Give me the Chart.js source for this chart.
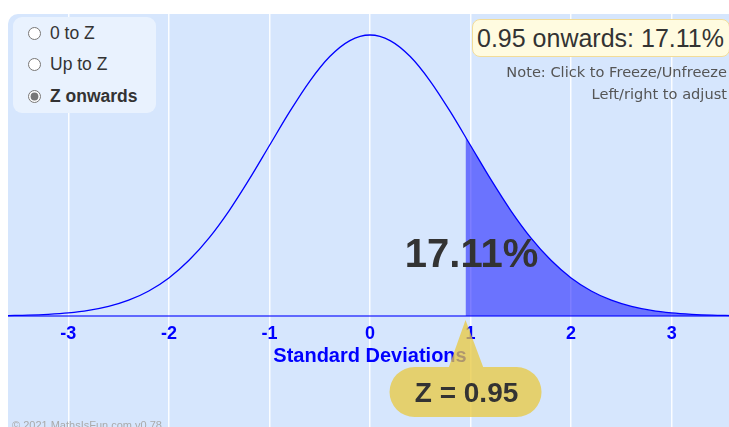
<!DOCTYPE html>
<html lang="en">
<head>
    <meta charset="UTF-8">
    <title>Standard Normal Distribution</title>
    <script src="https://cdn.jsdelivr.net/npm/chart.js"></script>
    <style>
        body { margin: 0; width: 729px; height: 427px; overflow: hidden; background: #fff; font-family: "Liberation Sans", Arial, sans-serif; position: relative; }
        #wrap { position: absolute; left: 8px; top: 14px; width: 724px; height: 413px; background: #d6e6fd; border-top-left-radius: 10px; overflow: hidden; }
        #modes { position: absolute; left: 13px; top: 17px; width: 143px; height: 96px; background: #e9f2fe; border-radius: 9px; }
        #modes label { position: absolute; left: 15px; font-size: 17.5px; color: #333; display: flex; align-items: center; }
        #modes input { margin: 0 9px 0 0; width: 13px; height: 13px; accent-color: #777; }
        #result { position: absolute; left: 472px; top: 19px; width: 258px; height: 38px; background: #fffbe0; border: 1px solid #f2dc98; border-radius: 8px; box-sizing: border-box; font-size: 25px; color: #333; line-height: 36px; padding-left: 4px; white-space: nowrap; }
        .note { position: absolute; right: 2px; font-family: "DejaVu Sans", Verdana, sans-serif; font-size: 14.6px; color: #555; white-space: nowrap; }
        #copy { position: absolute; left: 12px; top: 419px; font-size: 11px; color: #aaa; }
    </style>
</head>
<body>
    <div id="wrap"><canvas id="myChart" width="724" height="413"></canvas></div>
    <div id="modes">
        <label style="top:6px"><input type="radio" name="m">0 to Z</label>
        <label style="top:37px"><input type="radio" name="m">Up to Z</label>
        <label style="top:69px;font-weight:bold"><input type="radio" name="m" checked>Z onwards</label>
    </div>
    <div id="result">0.95 onwards: 17.11%</div>
    <div class="note" style="top:63px">Note: Click to Freeze/Unfreeze</div>
    <div class="note" style="top:85px">Left/right to adjust</div>
    <div id="copy">© 2021 MathsIsFun.com v0.78</div>

    <script>
        // bell curve (standard deviations vs height)
        const xValues = [-3.6, -3.4, -3.2, -3.0, -2.8, -2.6, -2.4, -2.2, -2.0, -1.8, -1.6, -1.4, -1.2, -1.0, -0.8, -0.6, -0.4, -0.2, 0,
                         0.2, 0.4, 0.6, 0.8, 1.0, 1.2, 1.4, 1.6, 1.8, 2.0, 2.2, 2.4, 2.6, 2.8, 3.0, 3.2, 3.4, 3.6];
        const curveValues = [0.0006, 0.0012, 0.0024, 0.0044, 0.0079, 0.0136, 0.0224, 0.0355, 0.0540, 0.0790, 0.1109, 0.1497, 0.1942, 0.2420, 0.2897, 0.3332, 0.3683, 0.3910, 0.3989,
                             0.3910, 0.3683, 0.3332, 0.2897, 0.2420, 0.1942, 0.1497, 0.1109, 0.0790, 0.0540, 0.0355, 0.0224, 0.0136, 0.0079, 0.0044, 0.0024, 0.0012, 0.0006];

        // shaded tail from Z onwards
        const shadeX = [0.95, 1.0, 1.2, 1.4, 1.6, 1.8, 2.0, 2.2, 2.4, 2.6, 2.8, 3.0, 3.2, 3.4, 3.6];
        const shadeValues = [0.2541, 0.2420, 0.1942, 0.1497, 0.1109, 0.0790, 0.0540, 0.0355, 0.0224, 0.0136, 0.0079, 0.0044, 0.0024, 0.0012, 0.0006];

        const xTicks = [-3, -2, -1, 0, 1, 2, 3];
        const zValue = 0.95;
        const areaLabel = "17.11%";
        const zLabel = "Z = 0.95";

        const overlay = {
            id: 'overlay',
            afterDraw(chart) {
                const c = chart.ctx;
                const zx = chart.scales.x.getPixelForValue(zValue);
                const y0 = chart.scales.y.getPixelForValue(0);
                c.save();
                // big percentage
                c.fillStyle = '#333';
                c.font = 'bold 40px "Liberation Sans", Arial, sans-serif';
                c.textAlign = 'center';
                c.textBaseline = 'alphabetic';
                c.fillText(areaLabel, zx + 6, y0 - 49);

                // Z bubble with pointer
                const left = zx - 76, top = y0 + 51, w = 152, h = 50, r = 25;
                c.beginPath();
                c.moveTo(left + r, top);
                c.lineTo(left + w - r, top);
                c.arc(left + w - r, top + r, r, -Math.PI / 2, Math.PI / 2);
                c.lineTo(left + r, top + h);
                c.arc(left + r, top + r, r, Math.PI / 2, Math.PI * 1.5);
                c.closePath();
                c.moveTo(zx - 17, top + 1);
                c.lineTo(zx, y0 + 4);
                c.lineTo(zx + 18, top + 1);
                c.closePath();
                c.fillStyle = 'rgba(232,200,62,0.75)';
                c.fill();

                c.fillStyle = '#333';
                c.font = 'bold 28px "Liberation Sans", Arial, sans-serif';
                c.textBaseline = 'middle';
                c.fillText(zLabel, zx + 1, top + 27);
                c.restore();
            }
        };

        const ctx = document.getElementById('myChart').getContext('2d');
        const myChart = new Chart(ctx, {
            type: 'line',
            data: {
                datasets: [
                    {
                        data: xValues.map((x, i) => ({ x: x, y: curveValues[i] })),
                        borderColor: '#0000ff',
                        borderWidth: 1.3,
                        pointRadius: 0,
                        cubicInterpolationMode: 'monotone',
                        fill: false,
                        order: 0
                    },
                    {
                        data: shadeX.map((x, i) => ({ x: x, y: shadeValues[i] })),
                        borderWidth: 0,
                        borderColor: 'rgba(0,0,0,0)',
                        backgroundColor: 'rgba(0,0,255,0.5)',
                        pointRadius: 0,
                        cubicInterpolationMode: 'monotone',
                        fill: 'origin',
                        order: 1
                    }
                ]
            },
            options: {
                responsive: false,
                animation: false,
                layout: { padding: 0 },
                plugins: { legend: { display: false }, tooltip: { enabled: false } },
                scales: {
                    x: {
                        type: 'linear',
                        position: { y: 0 },
                        min: -3.6,
                        max: 3.6,
                        afterBuildTicks: s => { s.ticks = xTicks.map(v => ({ value: v })); },
                        grid: { color: 'rgba(255,255,255,0.9)', lineWidth: 1.5, drawTicks: false },
                        border: { color: 'rgba(0,0,255,0.55)', width: 2 },
                        ticks: {
                            color: '#0000ff',
                            padding: 7,
                            maxRotation: 0,
                            font: { family: '"Liberation Sans", Arial, sans-serif', size: 18, weight: 'bold' }
                        },
                        title: {
                            display: true,
                            text: 'Standard Deviations',
                            color: '#0000ff',
                            padding: { top: -7, bottom: 0 },
                            font: { family: '"Liberation Sans", Arial, sans-serif', size: 20, weight: 'bold' }
                        }
                    },
                    y: {
                        display: false,
                        min: -0.1576,
                        max: 0.4287
                    }
                }
            },
            plugins: [overlay]
        });
    </script>
</body>
</html>
